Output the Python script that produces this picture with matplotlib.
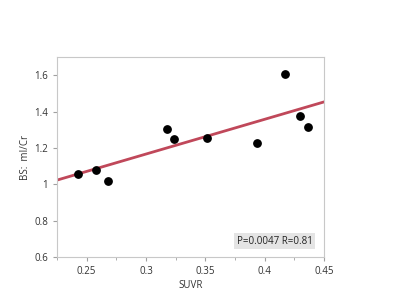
import numpy as np
import matplotlib
matplotlib.use("Agg")
import matplotlib.pyplot as plt
from matplotlib.ticker import MultipleLocator, FuncFormatter

# values
suvr = [0.2427, 0.2577, 0.2678, 0.318, 0.3237, 0.3513, 0.3935, 0.4174, 0.430, 0.4368]
bs_mi_cr = [1.056, 1.080, 1.018, 1.303, 1.250, 1.256, 1.228, 1.607, 1.373, 1.314]
fit_slope = 1.911
fit_intercept = 0.593
stats_label = "P=0.0047 R=0.81"

plt.rcParams["font.family"] = ["Open Sans", "DejaVu Sans"]

fig = plt.figure(figsize=(4, 3), dpi=100)
ax = fig.add_axes([0.1425, 0.1433, 0.6675, 0.6667])

xlim = (0.225, 0.45)
xs = np.array(xlim)
ax.plot(xs, fit_slope * xs + fit_intercept, color="#C0485A", lw=2, zorder=2)
ax.scatter(suvr, bs_mi_cr, s=28, color="black", zorder=3)

ax.set_xlim(*xlim)
ax.set_ylim(0.6, 1.7)
ax.xaxis.set_major_locator(MultipleLocator(0.05))
ax.xaxis.set_minor_locator(MultipleLocator(0.025))
ax.yaxis.set_major_locator(MultipleLocator(0.2))
ax.xaxis.set_major_formatter(FuncFormatter(lambda v, p: f"{v:g}"))
ax.yaxis.set_major_formatter(FuncFormatter(lambda v, p: f"{v:g}"))

for s in ax.spines.values():
    s.set_color("#C8C8C8")
    s.set_linewidth(0.8)
ax.tick_params(which="both", direction="out", color="#A0A0A0",
               labelsize=7, labelcolor="#333333")
ax.tick_params(which="major", length=3)
ax.tick_params(which="minor", length=2)

ax.set_xlabel("SUVR", fontsize=7, color="#333333", labelpad=2)
ax.set_ylabel("BS:  mI/Cr", fontsize=7, color="#333333", labelpad=2)

ax.text(0.958, 0.08, stats_label, transform=ax.transAxes, ha="right",
        va="center", fontsize=7, color="#222222",
        bbox=dict(boxstyle="square,pad=0.25", fc="#E4E4E4", ec="none"))

fig.savefig("out.png", dpi=100)
